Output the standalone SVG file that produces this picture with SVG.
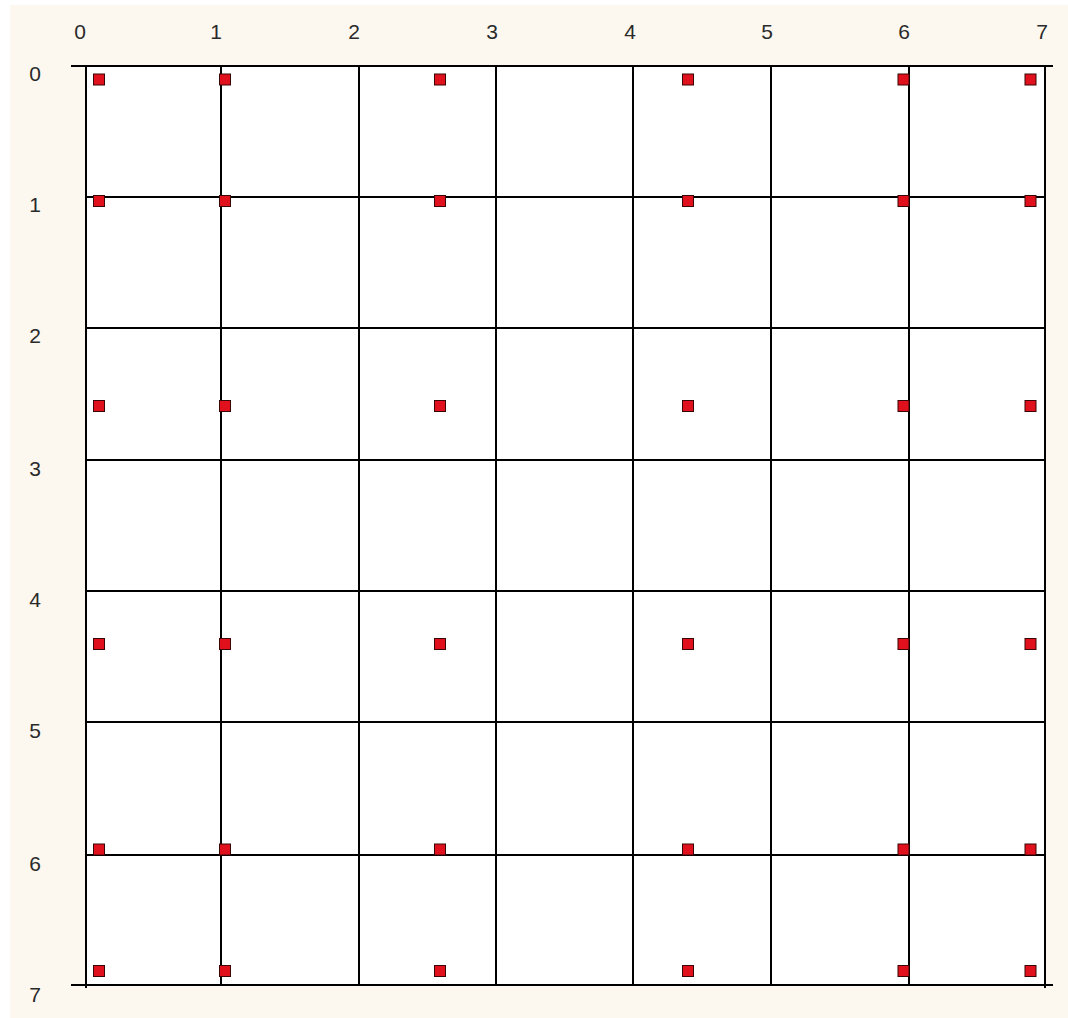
<svg xmlns="http://www.w3.org/2000/svg" width="1068" height="1018" viewBox="0 0 1068 1018">
<style>
.lbl{font-family:"Liberation Sans",Arial,sans-serif;font-size:21px;fill:#2a2a2a;text-anchor:middle}
.grid line{stroke:#000;stroke-width:2}
.sqr{fill:#e0101c;stroke:#3a0505;stroke-width:1}
</style>
<rect x="0" y="0" width="1068" height="1018" fill="#ffffff"/>
<rect x="10" y="5" width="1058" height="1013" fill="#fcf8ef"/>
<rect x="86" y="66" width="959" height="919" fill="#ffffff"/>
<g id="labels-top">
<text class="lbl" x="80" y="39">0</text>
<text class="lbl" x="216" y="39">1</text>
<text class="lbl" x="354" y="39">2</text>
<text class="lbl" x="492" y="39">3</text>
<text class="lbl" x="630" y="39">4</text>
<text class="lbl" x="767" y="39">5</text>
<text class="lbl" x="904" y="39">6</text>
<text class="lbl" x="1042" y="39">7</text>
</g>
<g id="labels-left">
<text class="lbl" x="35" y="81">0</text>
<text class="lbl" x="35" y="212">1</text>
<text class="lbl" x="35" y="343">2</text>
<text class="lbl" x="35" y="476">3</text>
<text class="lbl" x="35" y="607">4</text>
<text class="lbl" x="35" y="738">5</text>
<text class="lbl" x="35" y="871">6</text>
<text class="lbl" x="35" y="1002">7</text>
</g>
<g id="connectors" class="grid">
<line x1="71" y1="66" x2="1053" y2="66"/>
<line x1="71" y1="985" x2="1053" y2="985"/>
<line x1="86" y1="65" x2="86" y2="988"/>
<line x1="1045" y1="65" x2="1045" y2="988"/>
<line x1="221" y1="66" x2="221" y2="985"/>
<line x1="359" y1="66" x2="359" y2="985"/>
<line x1="496" y1="66" x2="496" y2="985"/>
<line x1="633" y1="66" x2="633" y2="985"/>
<line x1="771" y1="66" x2="771" y2="985"/>
<line x1="909" y1="66" x2="909" y2="985"/>
<line x1="86" y1="197" x2="1045" y2="197"/>
<line x1="86" y1="328" x2="1045" y2="328"/>
<line x1="86" y1="460" x2="1045" y2="460"/>
<line x1="86" y1="591" x2="1045" y2="591"/>
<line x1="86" y1="722" x2="1045" y2="722"/>
<line x1="86" y1="855" x2="1045" y2="855"/>
</g>
<defs>
<rect id="sq" class="sqr" x="-5.5" y="-5.5" width="11" height="11"/>
</defs>
<g id="points">
<g id="p0-0"><use href="#sq" x="99" y="79.5"/></g>
<g id="p0-1"><use href="#sq" x="225" y="79.5"/></g>
<g id="p0-2"><use href="#sq" x="440" y="79.5"/></g>
<g id="p0-3"><use href="#sq" x="688" y="79.5"/></g>
<g id="p0-4"><use href="#sq" x="903.5" y="79.5"/></g>
<g id="p0-5"><use href="#sq" x="1030.5" y="79.5"/></g>
<g id="p1-0"><use href="#sq" x="99" y="201"/></g>
<g id="p1-1"><use href="#sq" x="225" y="201"/></g>
<g id="p1-2"><use href="#sq" x="440" y="201"/></g>
<g id="p1-3"><use href="#sq" x="688" y="201"/></g>
<g id="p1-4"><use href="#sq" x="903.5" y="201"/></g>
<g id="p1-5"><use href="#sq" x="1030.5" y="201"/></g>
<g id="p2-0"><use href="#sq" x="99" y="406"/></g>
<g id="p2-1"><use href="#sq" x="225" y="406"/></g>
<g id="p2-2"><use href="#sq" x="440" y="406"/></g>
<g id="p2-3"><use href="#sq" x="688" y="406"/></g>
<g id="p2-4"><use href="#sq" x="903.5" y="406"/></g>
<g id="p2-5"><use href="#sq" x="1030.5" y="406"/></g>
<g id="p3-0"><use href="#sq" x="99" y="644"/></g>
<g id="p3-1"><use href="#sq" x="225" y="644"/></g>
<g id="p3-2"><use href="#sq" x="440" y="644"/></g>
<g id="p3-3"><use href="#sq" x="688" y="644"/></g>
<g id="p3-4"><use href="#sq" x="903.5" y="644"/></g>
<g id="p3-5"><use href="#sq" x="1030.5" y="644"/></g>
<g id="p4-0"><use href="#sq" x="99" y="849.5"/></g>
<g id="p4-1"><use href="#sq" x="225" y="849.5"/></g>
<g id="p4-2"><use href="#sq" x="440" y="849.5"/></g>
<g id="p4-3"><use href="#sq" x="688" y="849.5"/></g>
<g id="p4-4"><use href="#sq" x="903.5" y="849.5"/></g>
<g id="p4-5"><use href="#sq" x="1030.5" y="849.5"/></g>
<g id="p5-0"><use href="#sq" x="99" y="971"/></g>
<g id="p5-1"><use href="#sq" x="225" y="971"/></g>
<g id="p5-2"><use href="#sq" x="440" y="971"/></g>
<g id="p5-3"><use href="#sq" x="688" y="971"/></g>
<g id="p5-4"><use href="#sq" x="903.5" y="971"/></g>
<g id="p5-5"><use href="#sq" x="1030.5" y="971"/></g>
</g>
</svg>
